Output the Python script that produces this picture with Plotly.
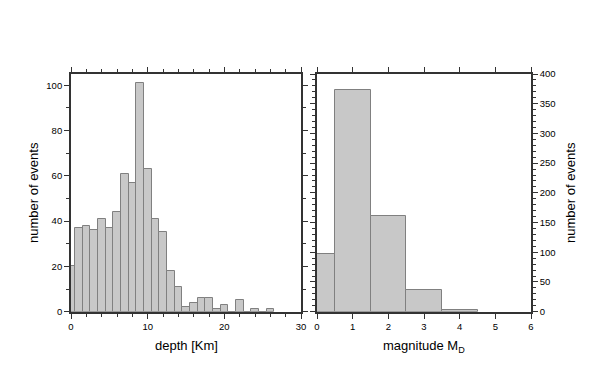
import plotly.graph_objects as go

# depth histogram (1 km bins centred on integers)
depth_bins = list(range(0, 27))
depth_counts = [20, 37, 38, 36, 41, 37, 44, 61, 57, 101, 63, 41, 35, 18, 11,
                2, 4, 6, 6, 1, 3, 0, 5, 0, 1, 0, 1]

# magnitude histogram (1 unit bins centred on integers)
mag_bins = [0, 1, 2, 3, 4]
mag_counts = [97, 373, 161, 37, 3]

FONT = "Liberation Sans, Arial, Helvetica, sans-serif"
FRAME = "#333333"
BAR_FILL = "#c8c8c8"
BAR_LINE = "#808080"
W, H = 602, 383

fig = go.Figure()
fig.add_trace(go.Bar(x=depth_bins, y=depth_counts, width=1,
                     marker=dict(color=BAR_FILL, line=dict(color=BAR_LINE, width=1)),
                     xaxis="x", yaxis="y", showlegend=False, cliponaxis=True))
fig.add_trace(go.Bar(x=mag_bins, y=mag_counts, width=1,
                     marker=dict(color=BAR_FILL, line=dict(color=BAR_LINE, width=1)),
                     xaxis="x2", yaxis="y2", showlegend=False, cliponaxis=True))

ydom = [1 - 311.7 / H, 1 - 74 / H]
common = dict(showline=True, linecolor=FRAME, linewidth=1.8, mirror="allticks",
              ticks="outside", tickcolor=FRAME, tickwidth=1, showgrid=False,
              zeroline=False, automargin=False,
              tickfont=dict(family=FONT, size=9.5, color="black"))
minor_x = dict(ticklen=3, ticks="outside", tickcolor=FRAME, showgrid=False)

fig.update_layout(
    width=W, height=H,
    margin=dict(l=0, r=0, t=0, b=0),
    paper_bgcolor="white", plot_bgcolor="white",
    bargap=0,
    font=dict(family=FONT, color="black"),
    xaxis=dict(domain=[71 / W, 301 / W], range=[0, 30], tick0=0, dtick=10, ticklen=5,
               minor=dict(dtick=2, **minor_x), anchor="y", **common),
    yaxis=dict(domain=ydom, range=[0, 105], tick0=0, dtick=20, ticklen=5,
               minor=dict(dtick=10, **minor_x), anchor="x", **common),
    xaxis2=dict(domain=[317 / W, 531 / W], range=[0, 6], tick0=0, dtick=1, ticklen=5,
                anchor="y2", **common),
    yaxis2=dict(domain=ydom, range=[0, 400], tick0=0, dtick=50, ticklen=5, side="right",
                minor=dict(dtick=10, **minor_x), anchor="x2", **common),
)

tf = dict(family=FONT, size=13, color="black")
fig.add_annotation(text="depth [Km]", x=186 / W, y=1 - 345 / H, xref="paper", yref="paper",
                   showarrow=False, font=tf, xanchor="center", yanchor="middle")
fig.add_annotation(text="magnitude M<sub>D</sub>", x=424 / W, y=1 - 346 / H, xref="paper",
                   yref="paper", showarrow=False, font=tf, xanchor="center", yanchor="middle")
fig.add_annotation(text="number of events", x=33 / W, y=1 - 193 / H, xref="paper", yref="paper",
                   showarrow=False, font=tf, textangle=-90, xanchor="center", yanchor="middle")
fig.add_annotation(text="number of events", x=570 / W, y=1 - 193 / H, xref="paper", yref="paper",
                   showarrow=False, font=tf, textangle=-90, xanchor="center", yanchor="middle")

fig.write_html("out.html", config={"displayModeBar": False},
               post_script="document.body.style.margin='0';document.body.style.overflow='hidden';")
